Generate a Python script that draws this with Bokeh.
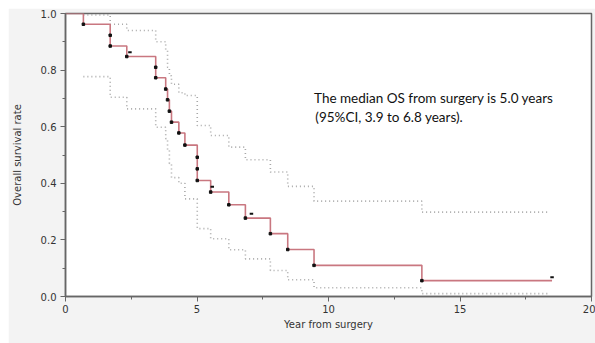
from bokeh.plotting import figure
from bokeh.models import Range1d, FixedTicker, CustomJSTickFormatter, Spacer
from bokeh.layouts import column, row
from bokeh.core.properties import value
from bokeh.embed import file_html
from bokeh.resources import INLINE

# Kaplan-Meier estimate: event times (ties repeated) and survival after each event
km_times = [0.68, 1.70, 1.70, 2.33, 3.43, 3.43, 3.81, 3.88, 3.95, 4.03, 4.31, 4.54,
            5.01, 5.01, 5.01, 5.52, 6.21, 6.84, 7.79, 8.45, 9.45, 13.55]
km_surv = [0.962, 0.923, 0.885, 0.848, 0.810, 0.773, 0.733, 0.695, 0.655, 0.616, 0.578, 0.535,
           0.492, 0.451, 0.410, 0.369, 0.324, 0.277, 0.222, 0.166, 0.110, 0.056]
km_end = 18.5

# censored observations
cens_times = [2.45, 5.58, 7.07, 18.5]
cens_surv = [0.863, 0.388, 0.292, 0.068]

# 95% confidence band (step functions)
ci_times = [0.68, 1.70, 2.33, 3.43, 3.81, 3.88, 3.95, 4.03, 4.31, 4.54, 5.01, 5.52,
            6.21, 6.84, 7.79, 8.45, 9.45, 13.55]
ci_upper = [0.995, 0.962, 0.940, 0.900, 0.870, 0.810, 0.780, 0.750, 0.720, 0.710, 0.604, 0.569,
            0.528, 0.483, 0.440, 0.389, 0.337, 0.298]
ci_lower = [0.777, 0.704, 0.663, 0.598, 0.558, 0.516, 0.470, 0.420, 0.400, 0.345, 0.240, 0.204,
            0.165, 0.133, 0.092, 0.059, 0.031, 0.010]
ci_end = 18.4

x_ticks = [0, 5, 10, 15, 20]
y_ticks = [0.0, 0.2, 0.4, 0.6, 0.8, 1.0]

note_lines = ["The median OS from surgery is 5.0 years", "(95%CI, 3.9 to 6.8 years)."]
note_x = [9.45, 9.5]
note_y = [0.70, 0.636]

p = figure(width=587, height=335, output_backend="svg", toolbar_location=None,
           x_range=Range1d(0, 20), y_range=Range1d(0, 1),
           min_border_left=55, min_border_right=4, min_border_top=5, min_border_bottom=47)

p.background_fill_color = "white"
p.border_fill_color = "#f3f3f3"
p.outline_line_color = "#666666"
p.outline_line_width = 1.5
p.xgrid.visible = False
p.ygrid.visible = False

for ax in (p.xaxis[0], p.yaxis[0]):
    ax.axis_line_color = "#666666"
    ax.axis_line_width = 1.5
    ax.major_tick_line_color = "#666666"
    ax.minor_tick_line_color = "#666666"
    ax.major_tick_out = 5
    ax.major_tick_in = 0
    ax.minor_tick_out = 3
    ax.minor_tick_in = 0
    ax.major_label_text_font = "DejaVu Sans"
    ax.major_label_text_font_size = "10px"
    ax.major_label_text_color = "#333333"
    ax.axis_label_text_font = "DejaVu Sans"
    ax.axis_label_text_font_size = "10px"
    ax.axis_label_text_font_style = "normal"
    ax.axis_label_text_color = "#333333"

p.xaxis.ticker = FixedTicker(ticks=x_ticks, minor_ticks=[2.5, 7.5, 12.5, 17.5])
p.yaxis.ticker = FixedTicker(ticks=y_ticks, minor_ticks=[0.1, 0.3, 0.5, 0.7, 0.9])
p.yaxis.formatter = CustomJSTickFormatter(code="return tick.toFixed(1);")
p.xaxis.axis_label = "Year from surgery"
p.yaxis.axis_label = "Overall survival rate"
p.xaxis.major_label_standoff = 3
p.yaxis.major_label_standoff = 4
p.xaxis.axis_label_standoff = 3
p.yaxis.axis_label_standoff = 15

# confidence band
p.step(ci_times + [ci_end], ci_upper + [ci_upper[-1]], mode="after",
       line_color="#a8a8a8", line_width=1.6, line_dash="1 3")
p.step(ci_times + [ci_end], ci_lower + [ci_lower[-1]], mode="after",
       line_color="#a8a8a8", line_width=1.6, line_dash="1 3")

# KM curve
p.step([0] + km_times + [km_end], [1.0] + km_surv + [km_surv[-1]], mode="after",
       line_color="#c97780", line_width=1.6)
p.scatter(km_times, km_surv, marker="square", size=2.5, color="#111111")
p.scatter(cens_times, cens_surv, marker="dash", size=3.5, line_width=2, color="#111111")

p.text(x=note_x, y=note_y, text=note_lines, text_font=value("Lato"),
       text_font_size="13.5px", text_color="#111111", text_baseline="middle", text_align="left")

layout = column(Spacer(height=8), row(Spacer(width=8), p))
open("out.html", "w").write(file_html(layout, INLINE))
